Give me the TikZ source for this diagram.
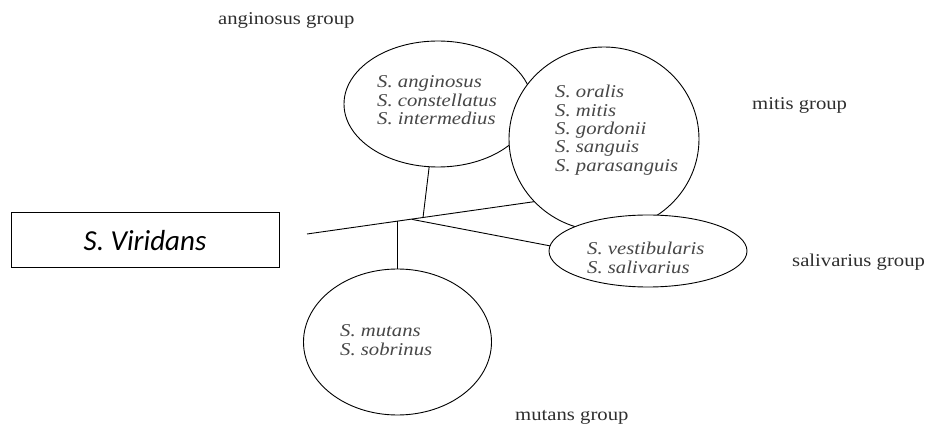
\documentclass[tikz,border=0pt]{standalone}
\usepackage{fontspec}
\newfontfamily\tms[FakeStretch=1.15]{Liberation Serif}
\newfontfamily\crl{Carlito}
\usetikzlibrary{shapes.geometric}
\begin{document}
\begin{tikzpicture}[x=1pt,y=-1pt,
  ell/.style={draw=black, line width=0.9pt, ellipse, inner sep=0pt, outer sep=0pt, fill=white},
  sp/.style={font={\tms\itshape\fontsize{18}{20}\selectfont}, text=black!72, inner sep=0pt, anchor=base west},
  grp/.style={font={\tms\fontsize{18}{20}\selectfont}, text=black!82, inner sep=0pt, anchor=base west},
  conn/.style={line width=0.9pt},
  vbox/.style={draw=black, line width=1pt, rectangle, minimum width=268pt, minimum height=55pt, inner sep=0pt,
    font={\crl\itshape\fontsize{29}{32}\selectfont}}]
\useasboundingbox (0,0) rectangle (930,430);

% ellipses
\node[ell, minimum width=188pt, minimum height=126pt] (ang) at (438,104) {};
\node[ell, minimum width=190pt, minimum height=184pt] (mit) at (604,139) {};
\node[ell, minimum width=198pt, minimum height=72pt] (sal) at (648,251) {};
\node[ell, minimum width=188pt, minimum height=146pt] (mut) at (397.5,342) {};

% species
\foreach \t [count=\i] in {anginosus, constellatus, intermedius}
  \node[sp] (ang\i) at (377,{88+18.3*(\i-1)}) {S. \t};
\foreach \t [count=\i] in {oralis, mitis, gordonii, sanguis, parasanguis}
  \node[sp] (mit\i) at (555,{98+18.3*(\i-1)}) {S. \t};
\foreach \t [count=\i] in {vestibularis, salivarius}
  \node[sp] (sal\i) at (587,{255+18.3*(\i-1)}) {S. \t};
\foreach \t [count=\i] in {mutans, sobrinus}
  \node[sp] (mut\i) at (340,{337+18.3*(\i-1)}) {S. \t};

% group labels
\node[grp] (gang) at (218,25) {anginosus group};
\node[grp] (gmit) at (752,110) {mitis group};
\node[grp] (gsal) at (792,267) {salivarius group};
\node[grp] (gmut) at (515,421) {mutans group};

% box
\node[vbox] (vir) at (145,240.5) {S. Viridans};

% connectors
\coordinate (s) at (307,234);
\coordinate (ja) at (423,217.7);
\coordinate (js) at (412,219.4);
\coordinate (jm) at (397.5,221);
\draw[conn] (s) -- (mit.222.4);
\draw[conn] (ang.262) -- (ja);
\draw[conn] (js) -- (sal.177);
\draw[conn] (jm) -- (mut.north);
\end{tikzpicture}
\end{document}
